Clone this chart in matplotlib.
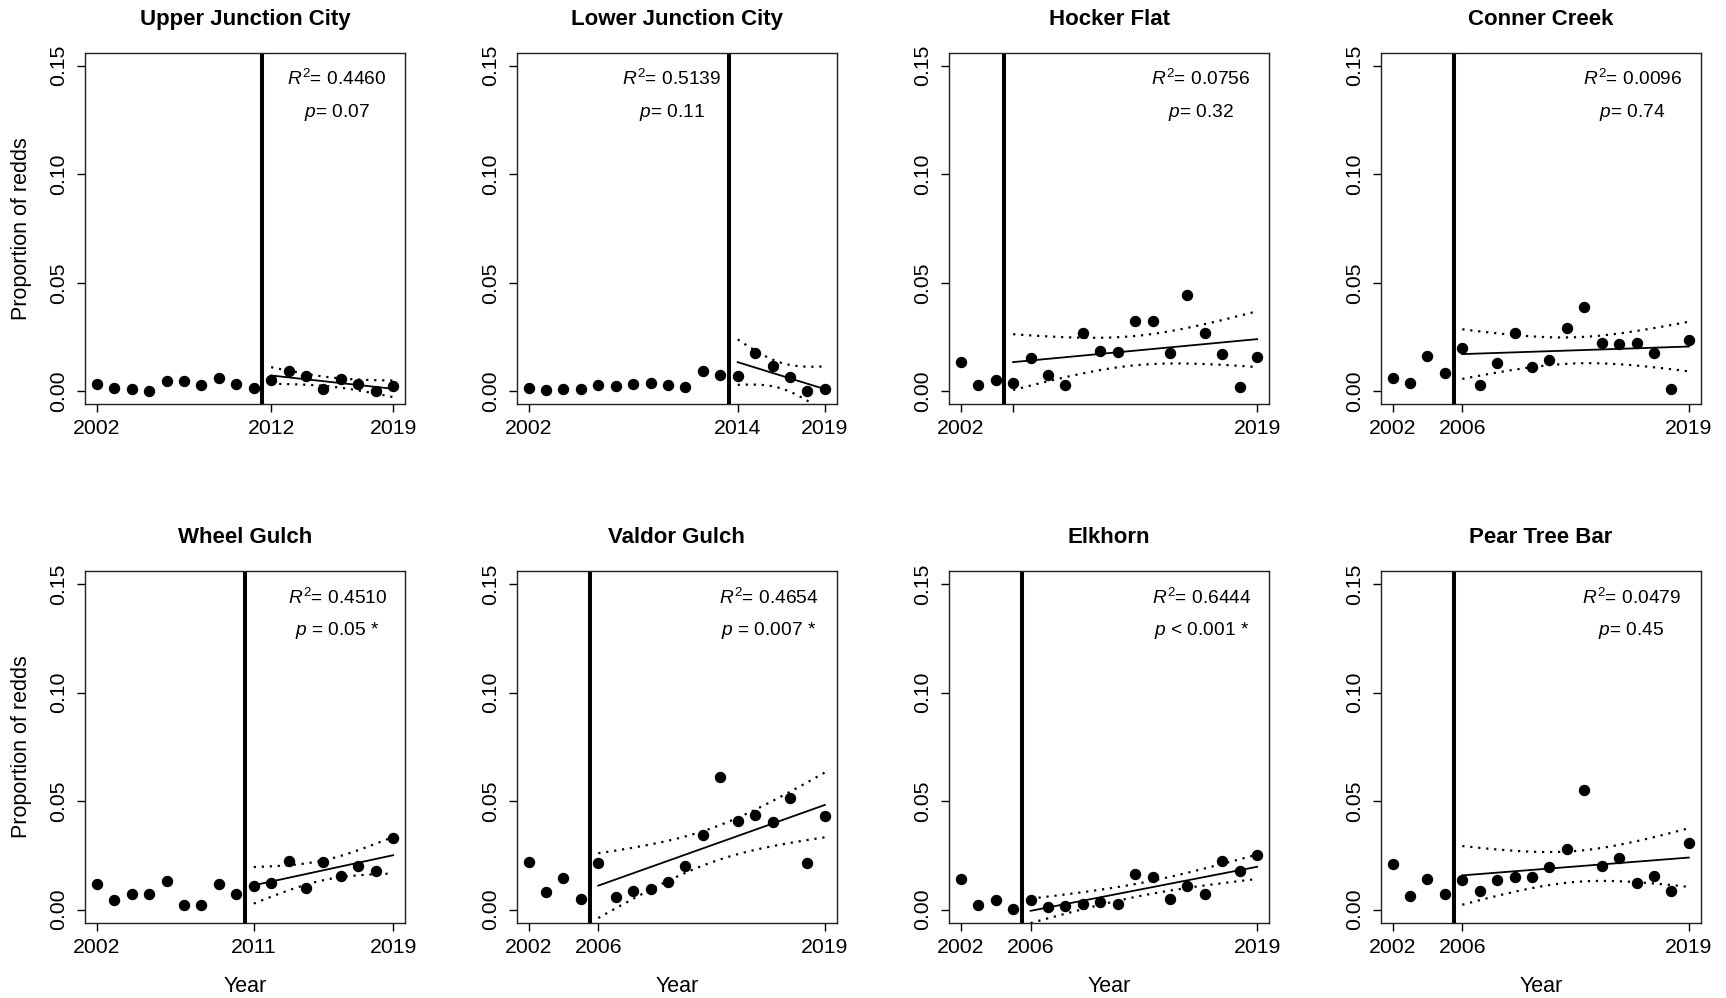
import numpy as np
import matplotlib.pyplot as plt

plt.rcParams['font.family'] = ['Liberation Sans', 'DejaVu Sans']
plt.rcParams['mathtext.fontset'] = 'custom'
plt.rcParams['mathtext.rm'] = 'Liberation Sans'
plt.rcParams['mathtext.it'] = 'Liberation Sans:italic'

years = np.arange(2002, 2020)

# proportion of redds per year
upper_junction_city = [0.0034, 0.0015, 0.0011, 0.0000, 0.0049, 0.0049, 0.0031, 0.0061, 0.0034,
                       0.0015, 0.0054, 0.0092, 0.0069, 0.0011, 0.0057, 0.0034, 0.0000, 0.0023]
lower_junction_city = [0.0015, 0.0008, 0.0012, 0.0012, 0.0028, 0.0023, 0.0034, 0.0037, 0.0031,
                       0.0020, 0.0095, 0.0075, 0.0069, 0.0176, 0.0115, 0.0064, 0.0000, 0.0011]
hocker_flat = [0.0136, 0.0031, 0.0051, 0.0037, 0.0153, 0.0075, 0.0031, 0.0270, 0.0187,
               0.0181, 0.0322, 0.0322, 0.0175, 0.0444, 0.0270, 0.0172, 0.0018, 0.0158]
conner_creek = [0.0061, 0.0037, 0.0164, 0.0084, 0.0198, 0.0031, 0.0130, 0.0271, 0.0110,
                0.0145, 0.0291, 0.0387, 0.0222, 0.0217, 0.0222, 0.0176, 0.0011, 0.0237]
wheel_gulch = [0.0120, 0.0046, 0.0074, 0.0071, 0.0130, 0.0023, 0.0023, 0.0120, 0.0074,
               0.0110, 0.0123, 0.0225, 0.0100, 0.0218, 0.0153, 0.0199, 0.0176, 0.0330]
valdor_gulch = [0.0219, 0.0081, 0.0146, 0.0051, 0.0215, 0.0057, 0.0087, 0.0095, 0.0127,
                0.0202, 0.0345, 0.0613, 0.0410, 0.0434, 0.0405, 0.0514, 0.0215, 0.0433]
elkhorn = [0.0143, 0.0023, 0.0046, 0.0005, 0.0043, 0.0011, 0.0015, 0.0026, 0.0035,
           0.0026, 0.0164, 0.0150, 0.0049, 0.0107, 0.0072, 0.0222, 0.0176, 0.0250]
pear_tree_bar = [0.0210, 0.0064, 0.0141, 0.0072, 0.0138, 0.0084, 0.0138, 0.0149, 0.0149,
                 0.0195, 0.0279, 0.0549, 0.0202, 0.0236, 0.0123, 0.0153, 0.0084, 0.0307]

sites = ['Upper Junction City', 'Lower Junction City', 'Hocker Flat', 'Conner Creek',
         'Wheel Gulch', 'Valdor Gulch', 'Elkhorn', 'Pear Tree Bar']
series = [upper_junction_city, lower_junction_city, hocker_flat, conner_creek,
          wheel_gulch, valdor_gulch, elkhorn, pear_tree_bar]
trend_start = [2012, 2014, 2005, 2006, 2011, 2006, 2006, 2006]
r2_labels = ['0.4460', '0.5139', '0.0756', '0.0096', '0.4510', '0.4654', '0.6444', '0.0479']
p_labels = ['= 0.07', '= 0.11', '= 0.32', '= 0.74', ' = 0.05 *', ' = 0.007 *', ' < 0.001 *', '= 0.45']
label_x = [2015.75, 2010.2, 2015.75, 2015.75, 2015.8, 2015.8, 2015.8, 2015.7]

# two-sided 95% t quantiles by residual df
t975 = {4: 2.776, 5: 2.571, 6: 2.447, 7: 2.365, 12: 2.179, 13: 2.160}

W, H = 1726, 998
fig = plt.figure(figsize=(W / 100, H / 100), dpi=100)
lefts = [85, 516.7, 949, 1380.7]
tops = [52.7, 571]
bw, bh = 320, 351.7


def draw_panel(ax, title, vals, start, r2, ptxt, tx, first_col, bottom_row):
    vals = np.array(vals)
    ax.set_xlim(2001.32, 2019.68)
    ax.set_ylim(-0.006, 0.156)

    ax.axvline(start - 0.5, color='black', lw=2.9, zorder=2)

    # linear trend after the break with 95% confidence band
    mask = years >= start
    x, y = years[mask], vals[mask]
    slope, icpt = np.polyfit(x, y, 1)
    n = len(x)
    s = np.sqrt(np.sum((y - (slope * x + icpt)) ** 2) / (n - 2))
    sxx = np.sum((x - x.mean()) ** 2)
    xs = np.linspace(x.min(), x.max(), 80)
    fit = slope * xs + icpt
    se = s * np.sqrt(1 / n + (xs - x.mean()) ** 2 / sxx)
    t = t975[n - 2]
    ax.plot(xs, fit, color='black', lw=1.3, zorder=3)
    ax.plot(xs, fit + t * se, color='black', lw=1.6, ls=(0, (1.0, 2.6)), zorder=3)
    ax.plot(xs, fit - t * se, color='black', lw=1.6, ls=(0, (1.0, 2.6)), zorder=3)

    ax.plot(years, vals, 'o', color='black', ms=7.2, zorder=4)

    ax.text(tx, 0.1409, r'$\it{R}^{2}$= ' + r2, ha='center', va='baseline', fontsize=13.8)
    ax.text(tx, 0.1264, r'$\it{p}$' + ptxt, ha='center', va='baseline', fontsize=13.8)

    ticks = [2002, start, 2019]
    labels = [str(v) if (v - 2002 >= 4 or v == 2002) else '' for v in ticks]
    ax.set_xticks(ticks)
    ax.set_xticklabels(labels)
    ax.set_yticks([0.0, 0.05, 0.10, 0.15])
    ax.set_yticklabels(['0.00', '0.05', '0.10', '0.15'], rotation=90, va='center')
    ax.tick_params(axis='both', direction='out', length=5.8, width=1, labelsize=15.3, color='black')
    ax.tick_params(axis='x', pad=5)
    ax.tick_params(axis='y', pad=6)
    for sp in ax.spines.values():
        sp.set_linewidth(1.0)
        sp.set_color('#222222')

    ax.set_title(title, fontsize=16, fontweight='bold', pad=20)
    if first_col:
        ax.text(-63 / bw, 0.5, 'Proportion of redds', transform=ax.transAxes,
                rotation=90, ha='center', va='center', fontsize=15.5)
    if bottom_row:
        ax.text(0.5, -64 / bh, 'Year', transform=ax.transAxes,
                ha='center', va='center', fontsize=15.5)


for i in range(8):
    r, c = divmod(i, 4)
    ax = fig.add_axes([lefts[c] / W, 1 - (tops[r] + bh) / H, bw / W, bh / H])
    draw_panel(ax, sites[i], series[i], trend_start[i], r2_labels[i], p_labels[i],
               label_x[i], c == 0, r == 1)

fig.savefig('out.png', dpi=100)
